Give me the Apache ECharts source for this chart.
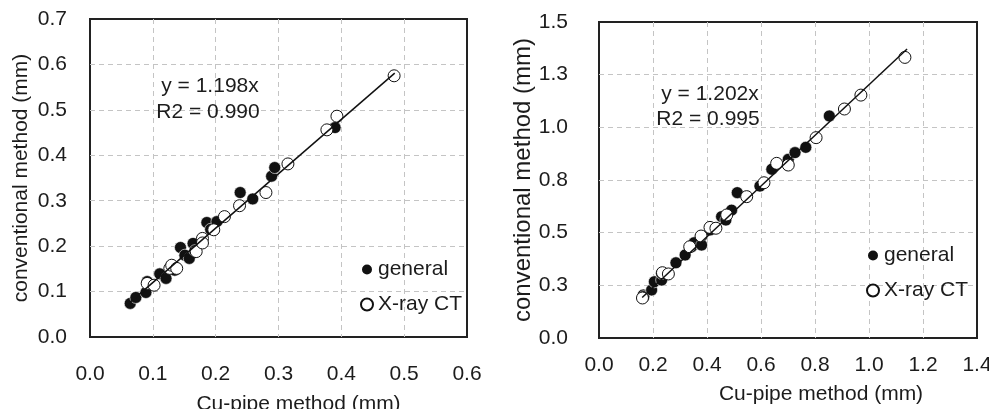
<!DOCTYPE html>
<html>
<head>
<meta charset="utf-8">
<script src="https://cdn.jsdelivr.net/npm/echarts@6/dist/echarts.min.js"></script>
<style>
  html, body { margin: 0; padding: 0; background: #fff; }
  #chart { width: 989px; height: 409px; }
</style>
</head>
<body>
<div id="chart"></div>
<script>
// left panel: [Cu-pipe, conventional]
const leftGeneral = [
  [0.064, 0.074], [0.073, 0.087], [0.089, 0.098], [0.091, 0.122], [0.111, 0.139],
  [0.121, 0.129], [0.135, 0.147], [0.144, 0.197], [0.151, 0.180], [0.158, 0.173],
  [0.164, 0.206], [0.167, 0.190], [0.186, 0.252], [0.192, 0.237], [0.202, 0.254],
  [0.239, 0.318], [0.259, 0.304], [0.289, 0.354], [0.294, 0.373], [0.390, 0.461]
];
const leftXray = [
  [0.091, 0.118], [0.102, 0.114], [0.127, 0.151], [0.130, 0.158], [0.138, 0.151],
  [0.169, 0.188], [0.179, 0.217], [0.179, 0.207], [0.197, 0.236], [0.214, 0.265],
  [0.238, 0.289], [0.280, 0.318], [0.315, 0.381], [0.377, 0.456], [0.393, 0.486],
  [0.484, 0.575]
];
// right panel
const rightGeneral = [
  [0.164, 0.204], [0.166, 0.196], [0.195, 0.228], [0.205, 0.267], [0.232, 0.275],
  [0.232, 0.307], [0.285, 0.357], [0.319, 0.394], [0.343, 0.433], [0.352, 0.452],
  [0.380, 0.441], [0.411, 0.513], [0.454, 0.576], [0.470, 0.560], [0.491, 0.607],
  [0.512, 0.690], [0.596, 0.721], [0.640, 0.801], [0.701, 0.848], [0.726, 0.880],
  [0.766, 0.905], [0.853, 1.054]
];
const rightXray = [
  [0.161, 0.190], [0.235, 0.310], [0.257, 0.304], [0.336, 0.433], [0.378, 0.484],
  [0.411, 0.525], [0.433, 0.521], [0.473, 0.584], [0.547, 0.671], [0.611, 0.737],
  [0.658, 0.829], [0.701, 0.821], [0.804, 0.951], [0.909, 1.087], [0.970, 1.153],
  [1.133, 1.332]
];

const slopes = [1.198, 1.202];
const r2 = ['0.990', '0.995'];
const fitRange = [[0.064, 0.485], [0.16, 1.141]];
const xMax = [0.6, 1.4];
const xStep = [0.1, 0.2];
const yMax = [0.7, 1.5];
const yStep = [0.1, 0.25];

const font = 'Liberation Sans, Arial, sans-serif';
const txt = '#1c1c1c';

function fitLine(i) {
  return fitRange[i].map(x => [x, +(slopes[i] * x).toFixed(4)]);
}

const myChart = echarts.init(document.getElementById('chart'));

const grids = [
  { left: 90, right: 522, top: 19, bottom: 72 },
  { left: 599, right: 12, top: 22, bottom: 71 }
];

const gridLine = {
  showMinLine: false,
  showMaxLine: false,
  lineStyle: { color: '#c4c4c4', type: [5, 4], width: 1 }
};

const xAxes = [0, 1].map(i => ({
  type: 'value',
  gridIndex: i,
  min: 0,
  max: xMax[i],
  interval: xStep[i],
  name: 'Cu-pipe method (mm)',
  nameLocation: 'middle',
  nameGap: i === 0 ? 57 : 46,
  nameTextStyle: {
    fontFamily: font, fontSize: 21, color: txt,
    padding: i === 0 ? [0, 0, 0, 40] : [0, 0, 0, 66]
  },
  axisLine: { show: false },
  axisTick: { show: false },
  axisLabel: {
    fontFamily: font, fontSize: 21, color: txt,
    margin: i === 0 ? 27 : 17,
    formatter: v => v.toFixed(1)
  },
  splitLine: gridLine
}));

const yAxes = [0, 1].map(i => ({
  type: 'value',
  gridIndex: i,
  min: 0,
  max: yMax[i],
  interval: yStep[i],
  name: 'conventional method (mm)',
  nameLocation: 'middle',
  nameGap: i === 0 ? 58 : 56,
  nameTextStyle: { fontFamily: font, fontSize: i === 0 ? 21 : 24, color: txt },
  axisLine: { show: false },
  axisTick: { show: false },
  axisLabel: {
    fontFamily: font, fontSize: 21, color: txt,
    margin: i === 0 ? 23 : 31,
    formatter: v => v.toFixed(1)
  },
  splitLine: gridLine
}));

function generalSeries(i, data) {
  return {
    name: 'general', type: 'scatter', xAxisIndex: i, yAxisIndex: i,
    symbolSize: 12,
    itemStyle: { color: '#111', opacity: 1, borderColor: '#fff', borderWidth: 0.6 },
    data: data, z: 3
  };
}
function xraySeries(i, data) {
  return {
    name: 'X-ray CT', type: 'scatter', xAxisIndex: i, yAxisIndex: i,
    symbolSize: 12,
    itemStyle: { color: '#fff', opacity: 1, borderColor: '#111', borderWidth: 1 },
    data: data, z: 4
  };
}
function lineSeries(i) {
  return {
    name: 'fit', type: 'line', xAxisIndex: i, yAxisIndex: i,
    symbol: 'none', silent: true,
    lineStyle: { color: '#111', width: 1.5 },
    data: fitLine(i), z: 5
  };
}

const legendCommon = {
  orient: 'vertical',
  data: ['general', 'X-ray CT'],
  icon: 'circle',
  itemWidth: 12,
  itemHeight: 12,
  itemGap: 14,
  textStyle: { fontFamily: font, fontSize: 21, color: txt }
};

function eqText(x, y, s) {
  return { type: 'text', x: x, y: y, z: 10,
    style: { text: s, font: '21px ' + font, fill: txt, align: 'center', verticalAlign: 'middle' } };
}

myChart.setOption({
  animation: false,
  backgroundColor: '#fff',
  grid: grids.map(g => Object.assign({
    show: true, borderColor: '#222', borderWidth: 2, backgroundColor: 'transparent',
    outerBoundsMode: 'none'
  }, g)),
  xAxis: xAxes,
  yAxis: yAxes,
  legend: [
    Object.assign({ left: 355, top: 254 }, legendCommon),
    Object.assign({ left: 861, top: 240 }, legendCommon)
  ],
  graphic: [
    eqText(210, 86, 'y = ' + slopes[0] + 'x'),
    eqText(208, 112, 'R2 = ' + r2[0]),
    eqText(710, 94, 'y = ' + slopes[1] + 'x'),
    eqText(708, 119, 'R2 = ' + r2[1])
  ],
  series: [
    generalSeries(0, leftGeneral), xraySeries(0, leftXray), lineSeries(0),
    generalSeries(1, rightGeneral), xraySeries(1, rightXray), lineSeries(1)
  ]
});

window.addEventListener('resize', () => {
  myChart.resize();
});
</script>
</body>
</html>
